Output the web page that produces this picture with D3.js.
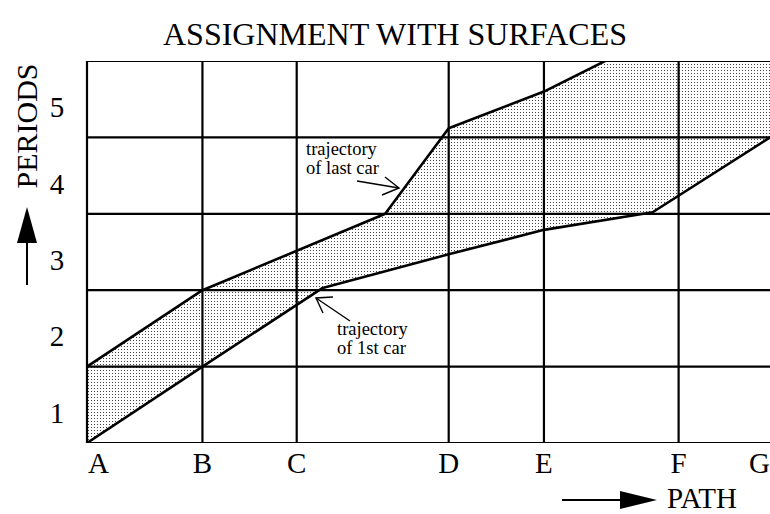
<!DOCTYPE html>
<html>
<head>
<meta charset="utf-8">
<script src="https://cdn.jsdelivr.net/npm/d3@7"></script>
<style>
  body { margin: 0; background: #fff; }
  svg { display: block; font-family: "Liberation Serif", "Times New Roman", serif; }
</style>
</head>
<body>
<svg id="chart" width="770" height="514"></svg>
<script>
// --- Data ---
const nodes = ["A", "B", "C", "D", "E", "F", "G"];
const nodeDist = [0, 1.2, 2.18, 3.76, 4.75, 6.15, 7.13];
const periods = [1, 2, 3, 4, 5];

// trajectory of 1st car (path distance, period)
const firstCarPath = [0, 1.2, 2.45, 3.76, 4.75, 5.88, 7.1];
const firstCarTime = [0, 1, 2.03, 2.47, 2.79, 3.02, 4.0];

// trajectory of last car
const lastCarPath = [0, 1.2, 3.1, 3.76, 4.75, 6.15];
const lastCarTime = [1, 2, 3, 4.12, 4.6, 5.48];

// --- Layout ---
const svg = d3.select("#chart");
const plotL = 87, plotR = 770, plotT = 61, plotB = 443;

const x = d3.scaleLinear().domain([0, 7.1]).range([plotL, plotR]);
const y = d3.scaleLinear().domain([0, 5]).range([plotB, plotT]);

// dotted fill
const defs = svg.append("defs");
const pat = defs.append("pattern")
    .attr("id", "dots")
    .attr("patternUnits", "userSpaceOnUse")
    .attr("width", 3).attr("height", 3);
pat.append("rect").attr("x", 1).attr("y", 1).attr("width", 1).attr("height", 1).attr("fill", "#444");

defs.append("clipPath").attr("id", "plot-clip")
    .append("rect")
    .attr("x", plotL).attr("y", plotT)
    .attr("width", plotR - plotL).attr("height", plotB - plotT);

const first = firstCarPath.map((d, i) => [d, firstCarTime[i]]);
const last = lastCarPath.map((d, i) => [d, lastCarTime[i]]);

const plot = svg.append("g").attr("clip-path", "url(#plot-clip)");

// shaded surface between the two trajectories
const corner = [first[first.length - 1][0], last[last.length - 1][1]];
const surface = last.concat([corner], first.slice().reverse());
plot.append("path")
    .attr("d", d3.line().x(d => x(d[0])).y(d => y(d[1]))(surface) + "Z")
    .attr("fill", "url(#dots)");

// grid
plot.selectAll(".hline")
    .data(d3.range(0, 6))
    .join("line")
    .attr("x1", plotL).attr("x2", plotR)
    .attr("y1", d => y(d)).attr("y2", d => y(d))
    .attr("stroke", "#000").attr("stroke-width", 2.2);

svg.selectAll(".vline")
    .data(nodeDist)
    .join("line")
    .attr("x1", d => x(d)).attr("x2", d => x(d))
    .attr("y1", plotT).attr("y2", plotB)
    .attr("stroke", "#000").attr("stroke-width", 2.2);

// trajectories
const line = d3.line().x(d => x(d[0])).y(d => y(d[1]));
[first, last].forEach(t => {
    plot.append("path")
        .attr("d", line(t))
        .attr("fill", "none")
        .attr("stroke", "#000")
        .attr("stroke-width", 2.6)
        .attr("stroke-linejoin", "round");
});

// x labels (path nodes)
svg.selectAll(".xlab")
    .data(nodes)
    .join("text")
    .attr("x", (d, i) => i === 0 ? x(nodeDist[i]) + 1 : (i === nodes.length - 1 ? plotR : x(nodeDist[i])))
    .attr("y", 473)
    .attr("text-anchor", (d, i) => i === 0 ? "start" : (i === nodes.length - 1 ? "end" : "middle"))
    .attr("font-size", 29)
    .text(d => d);

// y labels (periods)
svg.selectAll(".ylab")
    .data(periods)
    .join("text")
    .attr("x", 57)
    .attr("y", d => y(d - 0.5) + 18)
    .attr("text-anchor", "middle")
    .attr("font-size", 29)
    .text(d => d);

// title
svg.append("text")
    .attr("x", 395).attr("y", 45)
    .attr("text-anchor", "middle")
    .attr("font-size", 32)
    .text("ASSIGNMENT WITH SURFACES");

// y axis title with arrow
svg.append("text")
    .attr("transform", "translate(37,126) rotate(-90)")
    .attr("text-anchor", "middle")
    .attr("font-size", 30)
    .text("PERIODS");
svg.append("path").attr("d", "M27,207 L37,243 L17,243 Z").attr("fill", "#000");
svg.append("line").attr("x1", 27).attr("x2", 27).attr("y1", 240).attr("y2", 285)
    .attr("stroke", "#000").attr("stroke-width", 2);

// x axis title with arrow
svg.append("line").attr("x1", 562).attr("x2", 625).attr("y1", 500).attr("y2", 500)
    .attr("stroke", "#000").attr("stroke-width", 2);
svg.append("path").attr("d", "M657,500 L620,491 L620,509 Z").attr("fill", "#000");
svg.append("text")
    .attr("x", 667).attr("y", 508)
    .attr("font-size", 29)
    .text("PATH");

// annotations
function note(lines, tx, ty, from, tip, barbs) {
    const t = svg.append("text").attr("font-size", 18.5);
    lines.forEach((s, i) => t.append("tspan").attr("x", tx).attr("y", ty + i * 19).text(s));
    svg.append("line")
        .attr("x1", from[0]).attr("y1", from[1]).attr("x2", tip[0]).attr("y2", tip[1])
        .attr("stroke", "#000").attr("stroke-width", 1.4);
    svg.append("path")
        .attr("d", `M${barbs[0][0]},${barbs[0][1]} L${tip[0]},${tip[1]} L${barbs[1][0]},${barbs[1][1]}`)
        .attr("fill", "none").attr("stroke", "#000").attr("stroke-width", 1.4);
}
note(["trajectory", "of last car"], 306, 155, [357, 181], [399, 188], [[385, 177], [382, 195]]);
note(["trajectory", "of 1st car"], 337, 335, [350, 321], [316, 298], [[333, 297], [323, 313]]);
</script>
</body>
</html>
